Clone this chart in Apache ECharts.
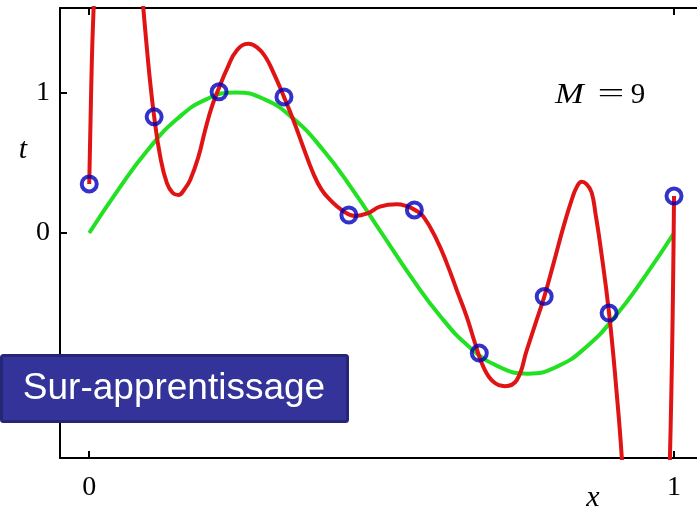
<!DOCTYPE html>
<html>
<head>
<meta charset="utf-8">
<script src="https://cdn.jsdelivr.net/npm/echarts@6/dist/echarts.min.js"></script>
<style>html,body{margin:0;padding:0;background:#fff}#c{width:697px;height:510px}</style>
</head>
<body>
<div id="c"></div>
<script>
// Observed data points (blue circles)
var pointX = [0, 0.111, 0.222, 0.333, 0.444, 0.556, 0.667, 0.778, 0.889, 1.0];
var pointT = [0.349, 0.826, 1.004, 0.968, 0.128, 0.164, -0.854, -0.452, -0.569, 0.263];

// Green curve
var greenX = [0, 0.05, 0.1, 0.15, 0.2, 0.25, 0.3, 0.35, 0.4, 0.45, 0.5, 0.55, 0.6, 0.65, 0.7, 0.75, 0.8, 0.85, 0.9, 0.95, 1.0];
var greenT = [0, 0.31, 0.59, 0.81, 0.95, 1.0, 0.95, 0.81, 0.59, 0.31, 0, -0.31, -0.59, -0.81, -0.95, -1.0, -0.95, -0.81, -0.59, -0.31, 0];

// Red curve M = 9 (values beyond the axes are clipped)
var redX = [0, 0.0045, 0.0075, 0.015, 0.04, 0.07, 0.09, 0.0957, 0.103, 0.111, 0.1214, 0.1328, 0.1427, 0.1527, 0.1626, 0.1726, 0.1868, 0.1983, 0.2097, 0.2227, 0.2354, 0.2525, 0.2723, 0.287, 0.3009, 0.315, 0.333, 0.349, 0.366, 0.383, 0.397, 0.412, 0.433, 0.455, 0.476, 0.497, 0.526, 0.543, 0.557, 0.5715, 0.5944, 0.6115, 0.6285, 0.6456, 0.6598, 0.674, 0.6911, 0.7111, 0.7311, 0.7482, 0.763, 0.778, 0.794, 0.811, 0.825, 0.834, 0.842, 0.85, 0.859, 0.866, 0.8735, 0.889, 0.902, 0.9106, 0.925, 0.95, 0.975, 0.993, 1.0];
var redT = [0.349, 1.23, 1.6, 2.4, 3.4, 2.4, 1.7, 1.445, 1.12, 0.828, 0.543, 0.354, 0.285, 0.270, 0.31, 0.377, 0.543, 0.733, 0.899, 1.04, 1.165, 1.30, 1.345, 1.32, 1.255, 1.14, 0.968, 0.804, 0.61, 0.425, 0.31, 0.235, 0.16, 0.121, 0.14, 0.187, 0.204, 0.19, 0.164, 0.116, -0.05, -0.216, -0.406, -0.596, -0.785, -0.952, -1.058, -1.089, -1.046, -0.833, -0.645, -0.455, -0.216, 0.045, 0.235, 0.33, 0.365, 0.35, 0.29, 0.13, -0.073, -0.572, -1.141, -1.592, -2.6, -4.0, -4.0, -1.6, 0.263];

var tickVals = [0, 1];
var tickLabels = ['0', '1'];

function zip(a, b) { return a.map(function (v, i) { return [v, b[i]]; }); }

var chart = echarts.init(document.getElementById('c'), null, { renderer: 'canvas' });
var serif = '"Liberation Serif", "DejaVu Serif", serif';
function labelFmt(v) { var i = tickVals.indexOf(v); return i >= 0 ? tickLabels[i] : ''; }
chart.setOption({
  animation: false,
  backgroundColor: '#fff',
  grid: { left: 60, top: 8, right: 0, height: 450, containLabel: false },
  xAxis: [{
    type: 'value', min: -0.05, max: 1.0393, position: 'bottom',
    axisLine: { show: true, onZero: false, lineStyle: { color: '#000', width: 2 } },
    axisTick: { show: true, inside: true, length: 7, customValues: tickVals, lineStyle: { color: '#000', width: 2 } },
    axisLabel: { show: true, margin: 16, customValues: tickVals, formatter: labelFmt, fontFamily: serif, fontSize: 28, color: '#000' },
    splitLine: { show: false }
  }, {
    type: 'value', min: -0.05, max: 1.0393, position: 'top',
    axisLine: { show: true, onZero: false, lineStyle: { color: '#000', width: 2 } },
    axisTick: { show: true, inside: true, length: 7, customValues: tickVals, lineStyle: { color: '#000', width: 2 } },
    axisLabel: { show: false },
    splitLine: { show: false }
  }],
  yAxis: [{
    type: 'value', min: -1.6, max: 1.6, position: 'left',
    axisLine: { show: true, onZero: false, lineStyle: { color: '#000', width: 2 } },
    axisTick: { show: true, inside: true, length: 7, customValues: tickVals, lineStyle: { color: '#000', width: 2 } },
    axisLabel: { show: true, margin: 10, customValues: tickVals, formatter: labelFmt, fontFamily: serif, fontSize: 28, color: '#000' },
    splitLine: { show: false }
  }],
  series: [{
    type: 'line', data: zip(greenX, greenT), smooth: true, showSymbol: false, clip: true,
    lineStyle: { color: '#22e022', width: 4 }, z: 2
  }, {
    type: 'line', data: zip(redX, redT), smooth: 0.45, showSymbol: false, clip: true,
    lineStyle: { color: '#e01414', width: 4 }, z: 3
  }, {
    type: 'scatter', data: zip(pointX, pointT), symbol: 'circle', symbolSize: 15,
    itemStyle: { color: 'rgba(0,0,0,0)', borderColor: '#0000bb', borderWidth: 4 }, z: 4
  }],
  graphic: [
    { type: 'text', x: 23, y: 150, z: 100, style: { text: 't', font: 'italic 30px ' + serif, fill: '#000', align: 'center', verticalAlign: 'middle' } },
    { type: 'text', x: 593, y: 498, z: 100, style: { text: 'x', font: 'italic 30px ' + serif, fill: '#000', align: 'center', verticalAlign: 'middle' } },
    { type: 'text', x: 555, y: 95, z: 100, scaleX: 1.15, originX: 0, originY: 0, style: { text: 'M', font: 'italic 30px ' + serif, fill: '#000', align: 'left', verticalAlign: 'middle' } },
    { type: 'text', x: 611, y: 95, z: 100, scaleX: 1.7, originX: 0, originY: 0, style: { text: '=', font: '28px ' + serif, fill: '#000', align: 'center', verticalAlign: 'middle' } },
    { type: 'text', x: 638, y: 95, z: 100, style: { text: '9', font: '29px ' + serif, fill: '#000', align: 'center', verticalAlign: 'middle' } },
    { type: 'rect', z: 100, shape: { x: 1.5, y: 355.5, width: 346, height: 66, r: 2 }, style: { fill: '#333399', stroke: '#262677', lineWidth: 3 } },
    { type: 'text', x: 174, y: 389, z: 101, style: { text: 'Sur-apprentissage', font: '37px "Liberation Sans", Arial, sans-serif', fill: '#fff', align: 'center', verticalAlign: 'middle' } }
  ]
});
</script>
</body>
</html>
